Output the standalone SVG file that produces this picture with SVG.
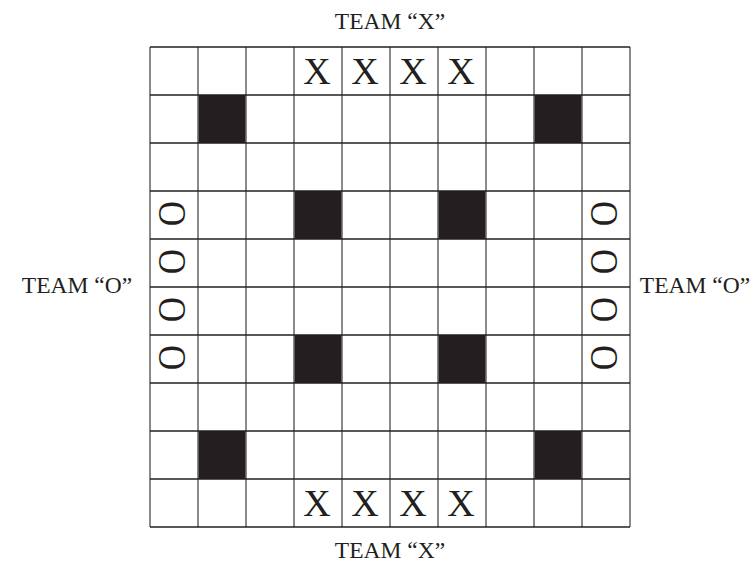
<svg xmlns="http://www.w3.org/2000/svg" width="752" height="565" viewBox="0 0 752 565">
<style>
.lbl{font-family:"Liberation Serif","Times New Roman",serif;font-size:23.5px;fill:#231f20;text-anchor:middle}
.x{font-family:"Liberation Serif","Times New Roman",serif;font-size:38px;fill:#231f20;text-anchor:middle}
.o{font-family:"Liberation Serif","Times New Roman",serif;font-size:34px;fill:#231f20}
.blk{fill:#231f20}
.v{stroke:#6d6d6d;stroke-width:1.6}
.h{stroke:#231f20;stroke-width:1.5}
</style>
<rect width="752" height="565" fill="#fff"/>
<g id="labels">
<text class="lbl" x="390" y="29">TEAM “X”</text>
<text class="lbl" x="390" y="558">TEAM “X”</text>
<text class="lbl" x="77" y="293">TEAM “O”</text>
<text class="lbl" x="695" y="293">TEAM “O”</text>
</g>
<g id="dark-cells">
<rect class="blk" x="198" y="95" width="48" height="48"/>
<rect class="blk" x="534" y="95" width="48" height="48"/>
<rect class="blk" x="294" y="191" width="48" height="48"/>
<rect class="blk" x="438" y="191" width="48" height="48"/>
<rect class="blk" x="294" y="335" width="48" height="48"/>
<rect class="blk" x="438" y="335" width="48" height="48"/>
<rect class="blk" x="198" y="431" width="48" height="48"/>
<rect class="blk" x="534" y="431" width="48" height="48"/>
</g>
<g id="grid">
<line class="v" x1="150" y1="47" x2="150" y2="527"/>
<line class="v" x1="198" y1="47" x2="198" y2="527"/>
<line class="v" x1="246" y1="47" x2="246" y2="527"/>
<line class="v" x1="294" y1="47" x2="294" y2="527"/>
<line class="v" x1="342" y1="47" x2="342" y2="527"/>
<line class="v" x1="390" y1="47" x2="390" y2="527"/>
<line class="v" x1="438" y1="47" x2="438" y2="527"/>
<line class="v" x1="486" y1="47" x2="486" y2="527"/>
<line class="v" x1="534" y1="47" x2="534" y2="527"/>
<line class="v" x1="582" y1="47" x2="582" y2="527"/>
<line class="v" x1="630" y1="47" x2="630" y2="527"/>
<line class="h" x1="150" y1="47" x2="630" y2="47"/>
<line class="h" x1="150" y1="95" x2="630" y2="95"/>
<line class="h" x1="150" y1="143" x2="630" y2="143"/>
<line class="h" x1="150" y1="191" x2="630" y2="191"/>
<line class="h" x1="150" y1="239" x2="630" y2="239"/>
<line class="h" x1="150" y1="287" x2="630" y2="287"/>
<line class="h" x1="150" y1="335" x2="630" y2="335"/>
<line class="h" x1="150" y1="383" x2="630" y2="383"/>
<line class="h" x1="150" y1="431" x2="630" y2="431"/>
<line class="h" x1="150" y1="479" x2="630" y2="479"/>
<line class="h" x1="150" y1="527" x2="630" y2="527"/>
</g>
<g id="team-x">
<text class="x" x="317" y="84">X</text>
<text class="x" x="365" y="84">X</text>
<text class="x" x="413" y="84">X</text>
<text class="x" x="461" y="84">X</text>
<text class="x" x="317" y="516">X</text>
<text class="x" x="365" y="516">X</text>
<text class="x" x="413" y="516">X</text>
<text class="x" x="461" y="516">X</text>
</g>
<g id="team-o">
<text class="o" transform="translate(158.5,201) scale(1.17,1.03)" x="0" y="0" rotate="90">O</text>
<text class="o" transform="translate(158.5,249) scale(1.17,1.03)" x="0" y="0" rotate="90">O</text>
<text class="o" transform="translate(158.5,297) scale(1.17,1.03)" x="0" y="0" rotate="90">O</text>
<text class="o" transform="translate(158.5,345) scale(1.17,1.03)" x="0" y="0" rotate="90">O</text>
<text class="o" transform="translate(590.5,201) scale(1.17,1.03)" x="0" y="0" rotate="90">O</text>
<text class="o" transform="translate(590.5,249) scale(1.17,1.03)" x="0" y="0" rotate="90">O</text>
<text class="o" transform="translate(590.5,297) scale(1.17,1.03)" x="0" y="0" rotate="90">O</text>
<text class="o" transform="translate(590.5,345) scale(1.17,1.03)" x="0" y="0" rotate="90">O</text>
</g>
</svg>
